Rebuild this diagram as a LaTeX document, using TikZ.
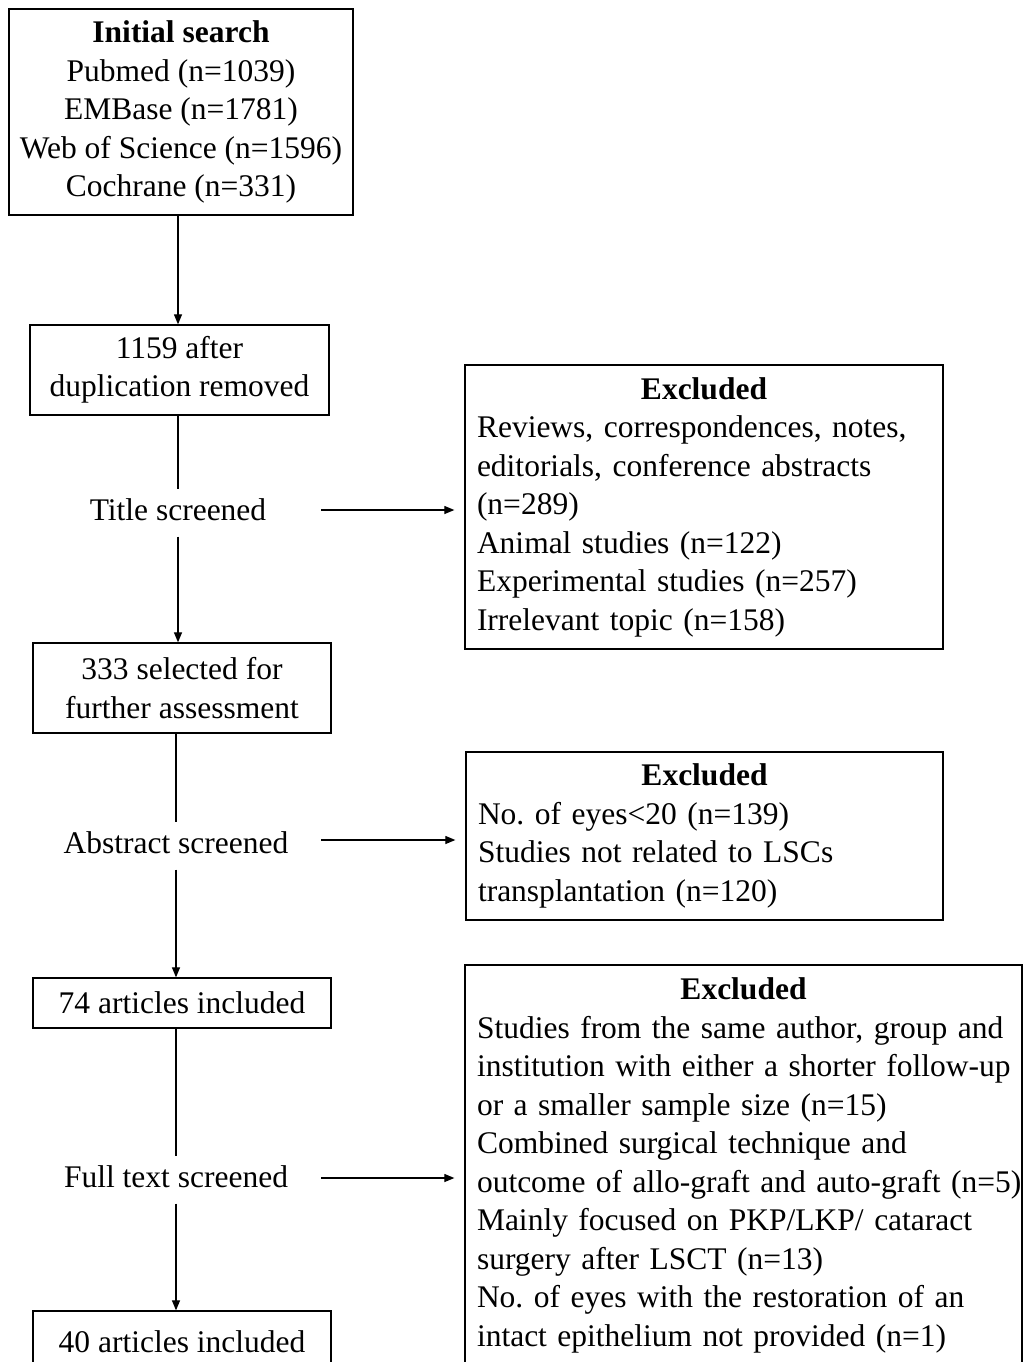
\documentclass[tikz,border=0pt]{standalone}
\usepackage{fontspec}
\setmainfont{Liberation Serif}
\frenchspacing
\usetikzlibrary{arrows.meta, positioning}
\tikzset{
  base/.style={font=\fontsize{31.5}{38.5}\selectfont},
  stagebox/.style={base, rectangle, draw=black, line width=1.3pt, align=center, inner sep=0pt},
  exbox/.style={base, rectangle, draw=black, line width=1.3pt, align=left, inner xsep=12pt, inner ysep=0pt},
  screen/.style={base, inner xsep=2pt, inner ysep=0pt, text height=22pt, text depth=7pt, minimum height=47pt},
  link/.style={line width=1.2pt},
  arrow/.style={line width=1.2pt, -{Triangle[length=10pt,width=8pt]}},
}
\begin{document}
\begin{tikzpicture}[x=1pt, y=-1pt]
\useasboundingbox (0,0) rectangle (1023,1362);
\clip (0,0) rectangle (1023,1362);
% left column
\node (search) [stagebox, minimum width=344pt, minimum height=206pt] at (181,112) {\textbf{Initial search}\\Pubmed (n=1039)\\EMBase (n=1781)\\Web of Science (n=1596)\\Cochrane (n=331)};
\node (dedup) [stagebox, minimum width=299pt, minimum height=90pt] at (179.5,370) {1159 after\\duplication removed};
\node (title) [screen] at (178,513) {Title screened};
\node (select) [stagebox, minimum width=298pt, minimum height=90pt] at (182,688) {333 selected for\\further assessment};
\node (abstr) [screen] at (176,846) {Abstract screened};
\node (incl74) [stagebox, minimum width=298pt, minimum height=50pt] at (182,1003) {74 articles included};
\node (full) [screen] at (176,1180) {Full text screened};
\node (incl40) [stagebox, minimum width=298pt, minimum height=62pt] at (182,1342) {40 articles included};
% excluded boxes
\node (exA) [exbox, text width=454pt, minimum height=284pt] at (704,507) {\makebox[\linewidth]{\textbf{Excluded}}\\Reviews, correspondences, notes,\\editorials, conference abstracts\\(n=289)\\Animal studies (n=122)\\Experimental studies (n=257)\\Irrelevant topic (n=158)};
\node (exB) [exbox, text width=453pt, minimum height=168pt] at (704.5,836) {\makebox[\linewidth]{\textbf{Excluded}}\\No. of eyes<20 (n=139)\\Studies not related to LSCs\\transplantation (n=120)};
\node (exC) [exbox, text width=533pt, minimum height=401pt] at (743.5,1165.5) {\makebox[\linewidth]{\textbf{Excluded}}\\Studies from the same author, group and\\\mbox{institution with either a shorter follow-up}\\or a smaller sample size (n=15)\\Combined surgical technique and\\\mbox{outcome of allo-graft and auto-graft (n=5)}\\Mainly focused on PKP/LKP/ cataract\\surgery after LSCT (n=13)\\No. of eyes with the restoration of an\\intact epithelium not provided (n=1)};
\coordinate (tA) at (321,510);
\coordinate (tB) at (321,840);
\coordinate (tC) at (321,1178);

\draw[arrow] (search.south -| title) -- (title |- dedup.north);
\draw[link] (dedup.south -| title) -- (title.north);
\draw[arrow] (title.south) -- (title |- select.north);
\draw[link] (select.south -| abstr) -- (abstr.north);
\draw[arrow] (abstr.south) -- (abstr |- incl74.north);
\draw[link] (incl74.south -| full) -- (full.north);
\draw[arrow] (full.south) -- (full |- incl40.north);
\draw[arrow, shorten >=10pt] (tA) -- (tA -| exA.west);
\draw[arrow, shorten >=10pt] (tB) -- (tB -| exB.west);
\draw[arrow, shorten >=10pt] (tC) -- (tC -| exC.west);
\end{tikzpicture}
\end{document}
